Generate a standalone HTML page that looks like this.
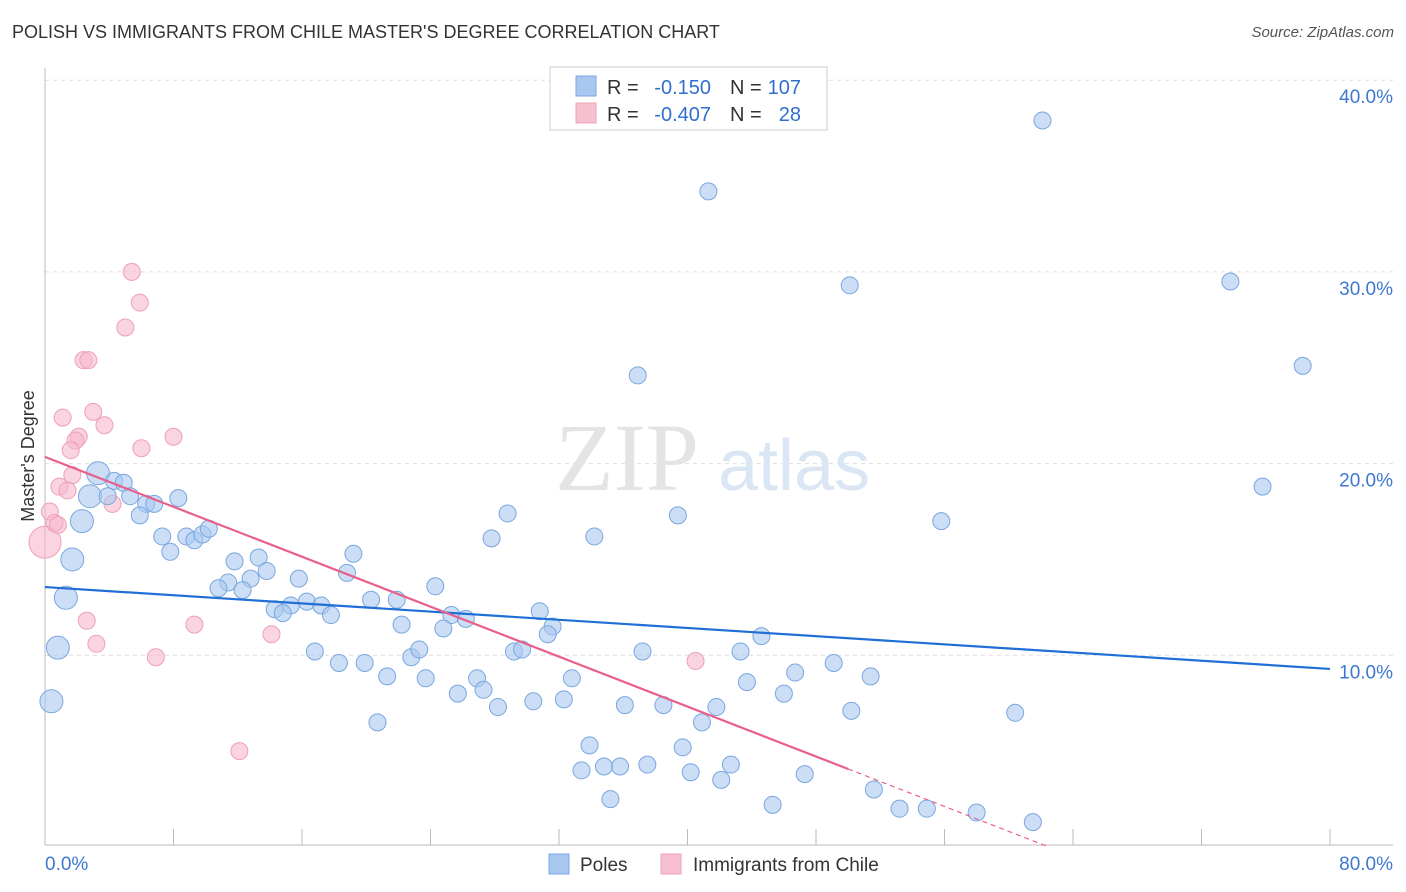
<!DOCTYPE html>
<html><head><meta charset="utf-8"><style>
body{margin:0;background:#fff;font-family:"Liberation Sans",sans-serif;}
#wrap{position:relative;width:1406px;height:892px;overflow:hidden;}
.t{position:absolute;white-space:nowrap;}
</style></head><body>
<div id="wrap">
<div class="t" style="left:12px;top:22px;font-size:18px;color:#333">POLISH VS IMMIGRANTS FROM CHILE MASTER'S DEGREE CORRELATION CHART</div>
<div class="t" style="right:12px;top:24px;font-size:15px;color:#555;font-style:italic">Source: ZipAtlas.com</div>
<svg id="chart" width="1406" height="892" style="position:absolute;left:0;top:0"></svg>
</div>
<script>
const bluePts=[[62.1,37.9],[41.3,34.2],[50.1,29.3],[73.8,29.5],[78.3,25.1],[36.9,24.6],[75.8,18.8],[55.8,17.0],[39.4,17.3],[34.2,16.2],[28.8,17.4],[27.8,16.1],[3.3,19.5],[4.3,19.1],[4.9,19.0],[2.8,18.3],[3.9,18.3],[5.3,18.3],[6.3,17.9],[6.8,17.9],[8.3,18.2],[2.3,17.0],[5.9,17.3],[7.3,16.2],[8.8,16.2],[9.3,16.0],[9.8,16.3],[10.2,16.6],[7.8,15.4],[1.7,15.0],[11.8,14.9],[13.3,15.1],[19.2,15.3],[13.8,14.4],[18.8,14.3],[11.4,13.8],[12.8,14.0],[15.8,14.0],[10.8,13.5],[12.3,13.4],[24.3,13.6],[1.3,13.0],[16.3,12.8],[17.2,12.6],[15.3,12.6],[14.3,12.4],[14.8,12.2],[17.8,12.1],[20.3,12.9],[21.9,12.9],[25.3,12.1],[26.2,11.9],[30.8,12.3],[31.6,11.5],[31.3,11.1],[24.8,11.4],[22.2,11.6],[0.8,10.4],[16.8,10.2],[18.3,9.6],[19.9,9.6],[22.8,9.9],[23.3,10.3],[29.2,10.2],[29.7,10.3],[37.2,10.2],[44.6,11.0],[43.3,10.2],[49.1,9.6],[51.4,8.9],[46.7,9.1],[43.7,8.6],[46.0,8.0],[50.2,7.1],[41.8,7.3],[38.5,7.4],[36.1,7.4],[32.8,8.8],[32.3,7.7],[30.4,7.6],[26.9,8.8],[27.3,8.2],[25.7,8.0],[28.2,7.3],[23.7,8.8],[21.3,8.9],[20.7,6.5],[0.4,7.6],[60.4,7.0],[40.9,6.5],[39.7,5.2],[33.9,5.3],[42.7,4.3],[37.5,4.3],[35.8,4.2],[34.8,4.2],[33.4,4.0],[40.2,3.9],[42.1,3.5],[47.3,3.8],[51.6,3.0],[35.2,2.5],[45.3,2.2],[53.2,2.0],[54.9,2.0],[58.0,1.8],[61.5,1.3]];
const blueBig=[12,15,21,29,41,57,87];
const pinkPts=[[0.0,15.9],[0.3,17.5],[0.6,16.9],[0.8,16.8],[5.4,30.0],[5.9,28.4],[5.0,27.1],[2.4,25.4],[2.7,25.4],[1.1,22.4],[3.0,22.7],[3.7,22.0],[8.0,21.4],[2.1,21.4],[1.9,21.2],[6.0,20.8],[1.6,20.7],[1.7,19.4],[0.9,18.8],[1.4,18.6],[4.2,17.9],[2.6,11.8],[3.2,10.6],[6.9,9.9],[9.3,11.6],[14.1,11.1],[40.5,9.7],[12.1,5.0]];
const blueTrend=[13.56,9.29];
const pinkTrend=[20.35,-0.3256];
const pinkSolidEnd=50;
const xTicks=[0,8,16,24,32,40,48,56,64,72,80];
const yTicks=[10,20,30,40];
const X=v=>45+v*16.0625, Y=v=>847-v*19.17;
const svg=document.getElementById('chart');
const NS='http://www.w3.org/2000/svg';
function mk(tag,attrs,name,parent){const e=document.createElementNS(NS,tag);for(const k in attrs)e.setAttribute(k,attrs[k]);


(parent||svg).appendChild(e);return e;}
yTicks.forEach(v=>{mk('line',{x1:45,x2:1393,y1:Y(v),y2:Y(v),stroke:'#ddd','stroke-dasharray':'4,4'},'gridline');
const t=mk('text',{x:1393,y:Y(v)+23,'text-anchor':'end','font-size':19,fill:'#3f78d0','font-family':'Liberation Sans'},'y-tick-label');t.textContent=v.toFixed(1)+'%';});
mk('line',{x1:45,x2:45,y1:68,y2:845,stroke:'#bbb'},'y-axis');
mk('line',{x1:45,x2:1393,y1:845,y2:845,stroke:'#bbb'},'x-axis');
xTicks.forEach(v=>{mk('line',{x1:X(v),x2:X(v),y1:829,y2:845,stroke:'#bbb'},'x-tick');});
let t=mk('text',{x:45,y:870,'font-size':19,fill:'#3f78d0','font-family':'Liberation Sans'},'x-tick-label');t.textContent='0.0%';
t=mk('text',{x:1393,y:870,'text-anchor':'end','font-size':19,fill:'#3f78d0','font-family':'Liberation Sans'},'x-tick-label');t.textContent='80.0%';
t=mk('text',{x:34,y:456,'text-anchor':'middle','font-size':18,fill:'#333','font-family':'Liberation Sans',transform:'rotate(-90 34 456)'},'y-axis-title');t.textContent="Master's Degree";
t=mk('text',{x:555,y:490,'font-size':96,fill:'#e4e4e4','font-family':'Liberation Serif'},'watermark-zip');t.textContent='ZIP';
t=mk('text',{x:718,y:490,'font-size':72,fill:'#dbe6f5','font-family':'Liberation Sans'},'watermark-atlas');t.textContent='atlas';
pinkPts.forEach((p,i)=>{mk('circle',{cx:X(p[0]),cy:Y(p[1]),r:i==0?16:8.5,fill:'#f7b8cb','fill-opacity':0.6,stroke:'#eea0b8'},'pink-point');});
bluePts.forEach((p,i)=>{mk('circle',{cx:X(p[0]),cy:Y(p[1]),r:blueBig.includes(i)?11.5:8.5,fill:'#a9c8f0','fill-opacity':0.6,stroke:'#7aa6e0'},'blue-point');});
mk('line',{x1:X(0),y1:Y(blueTrend[0]),x2:X(80),y2:Y(blueTrend[1]),stroke:'#1f6fd6','stroke-width':2.2},'blue-trend-line');
const pz=-pinkTrend[0]/pinkTrend[1];
mk('line',{x1:X(0),y1:Y(pinkTrend[0]),x2:X(pinkSolidEnd),y2:Y(pinkTrend[0]+pinkTrend[1]*pinkSolidEnd),stroke:'#e8608a','stroke-width':2.2},'pink-trend-line');
mk('line',{x1:X(pinkSolidEnd),y1:Y(pinkTrend[0]+pinkTrend[1]*pinkSolidEnd),x2:X(pz),y2:Y(0),stroke:'#e8608a','stroke-width':1.2,'stroke-dasharray':'5,4'},'pink-trend-extension');
// legend
const lg=mk('g',{},'legend');
mk('rect',{x:550,y:67,width:277,height:63,fill:'#fff',stroke:'#ccc'},'legend-box',lg);
mk('rect',{x:576,y:76,width:20,height:20,fill:'#a9c8f0',stroke:'#7aa6e0'},'legend-swatch-poles',lg);
mk('rect',{x:576,y:103,width:20,height:20,fill:'#f7c0d0',stroke:'#eea0b8'},'legend-swatch-chile',lg);
function tx(x,y,s,c,n,anchor){const e=mk('text',{x:x,y:y,'font-size':20,fill:c,'font-family':'Liberation Sans','text-anchor':anchor||'start'},n,lg);e.textContent=s;}
tx(607,94,'R =','#333','legend-r-label');tx(711,94,'-0.150','#2f6fd0','legend-r-poles','end');
tx(730,94,'N =','#333','legend-n-label');tx(801,94,'107','#2f6fd0','legend-n-poles','end');
tx(607,121,'R =','#333','legend-r-label');tx(711,121,'-0.407','#2f6fd0','legend-r-chile','end');
tx(730,121,'N =','#333','legend-n-label');tx(801,121,'28','#2f6fd0','legend-n-chile','end');
mk('rect',{x:549,y:854,width:20,height:20,fill:'#a9c8f0',stroke:'#7aa6e0'},'bottom-legend-swatch-poles');
mk('rect',{x:661,y:854,width:20,height:20,fill:'#f7c0d0',stroke:'#eea0b8'},'bottom-legend-swatch-chile');
t=mk('text',{x:580,y:871,'font-size':19,fill:'#333','font-family':'Liberation Sans'},'bottom-legend-poles');t.textContent='Poles';
t=mk('text',{x:693,y:871,'font-size':19,fill:'#333','font-family':'Liberation Sans'},'bottom-legend-chile');t.textContent='Immigrants from Chile';
</script>
</body></html>
